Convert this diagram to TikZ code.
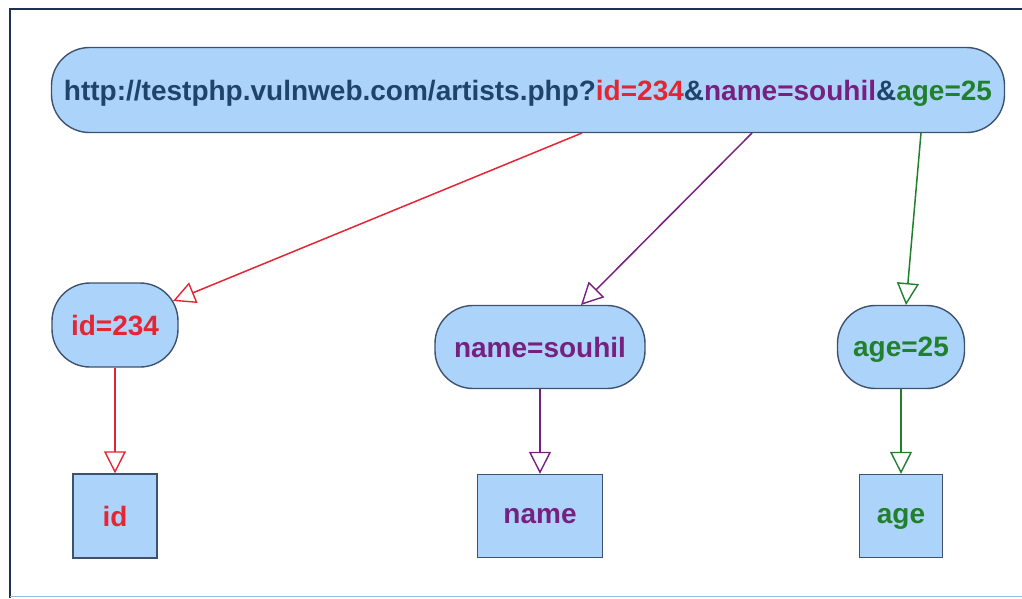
\documentclass[tikz,border=0pt]{standalone}
\usepackage{fontspec}
\setmainfont{Liberation Sans}
\usetikzlibrary{arrows.meta}
\definecolor{nfill}{RGB}{172,212,250}
\definecolor{ndraw}{RGB}{62,82,112}
\definecolor{cred}{RGB}{228,38,52}
\definecolor{cpur}{RGB}{118,32,128}
\definecolor{cgrn}{RGB}{32,128,44}
\definecolor{curl}{RGB}{30,68,108}
\definecolor{frame}{RGB}{30,50,80}
\definecolor{frameb}{RGB}{150,190,225}
\tikzset{
  pill/.style={draw=ndraw, fill=nfill, line width=1.4pt, rounded corners=38pt, inner sep=0pt, text depth=0pt, font=\bfseries\fontsize{28}{32}\selectfont},
  sq/.style={draw=ndraw, fill=nfill, line width=1.4pt, inner sep=0pt, text depth=0pt, font=\bfseries\fontsize{28}{32}\selectfont},
  conn/.style={line width=1.5pt, -{Triangle[open, length=22pt, width=22pt, line width=1.4pt]}},
}
\begin{document}
\begin{tikzpicture}[x=1pt,y=-1pt]
\useasboundingbox (0,0) rectangle (1022,598);
\fill[white] (0,0) rectangle (1022,598);
\draw[frame, line width=2.5pt] (10,598) -- (10,9) -- (1022,9);
\draw[frameb, line width=1.5pt] (10,596.5) -- (1022,596.5);
\node[pill, minimum width=953pt, minimum height=85pt, text=curl] (url) at (528,90)
  {http://testphp.vulnweb.com/artists.php?\textcolor{cred}{id=234}\&\textcolor{cpur}{name=souhil}\&\textcolor{cgrn}{age=25}};
\node[pill, minimum width=126pt, minimum height=84pt, text=cred] (idv) at (115,325) {id=234};
\node[pill, minimum width=210pt, minimum height=83pt, text=cpur] (namev) at (540,347) {name=souhil};
\node[pill, minimum width=127pt, minimum height=83pt, text=cgrn] (agev) at (901,347) {age=25};
\node[sq, minimum width=84pt, minimum height=84pt, text=cred] (id) at (115,516) {id};
\node[sq, minimum width=125pt, minimum height=83pt, text=cpur] (name) at (540,516) {name};
\node[sq, minimum width=83pt, minimum height=83pt, text=cgrn] (age) at (901,516) {age};
\coordinate (u1) at (582,133);
\coordinate (u2) at (752,133);
\coordinate (u3) at (921,133);
\coordinate (t1) at (173,301);
\coordinate (t2) at (581,305);
\coordinate (t3) at (906,305);
\draw[conn, cred] (u1) -- (t1);
\draw[conn, cpur] (u2) -- (t2);
\draw[conn, cgrn] (u3) -- (t3);
\draw[conn, cred] (idv) -- (id);
\draw[conn, cpur] (namev) -- (name);
\draw[conn, cgrn] (agev) -- (age);
\end{tikzpicture}
\end{document}
